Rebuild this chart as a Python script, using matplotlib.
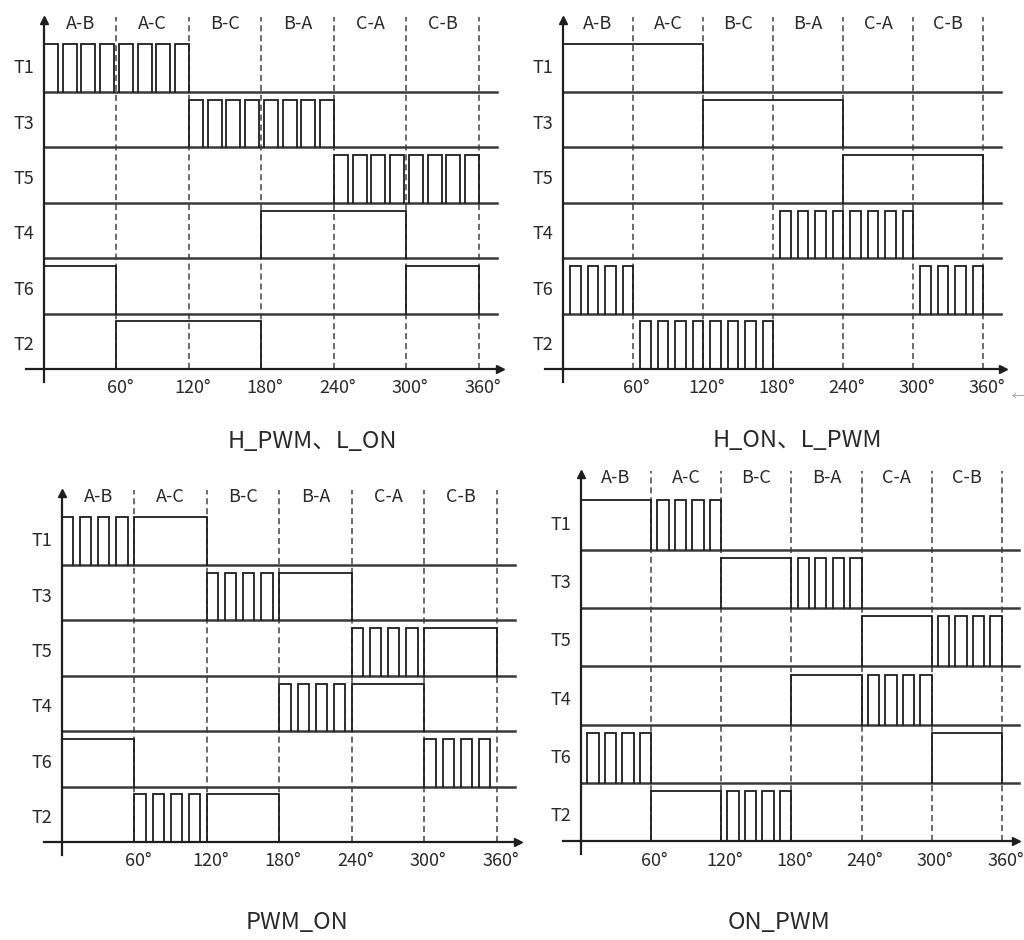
import matplotlib.pyplot as plt

plt.rcParams['font.family'] = ['Noto Sans CJK SC', 'DejaVu Sans']

switches = ['T1', 'T3', 'T5', 'T4', 'T6', 'T2']
sectors = ['A-B', 'A-C', 'B-C', 'B-A', 'C-A', 'C-B']
angles = [60, 120, 180, 240, 300, 360]
tick_labels = ['60°', '120°', '180°', '240°', '300°', '360°']

# state of each switch in each 60° sector: P = PWM chopping, H = on, 0 = off
h_pwm_l_on = ['PP0000', '00PP00', '0000PP', '000HH0', 'H0000H', '0HH000']
h_on_l_pwm = ['HH0000', '00HH00', '0000HH', '000PP0', 'P0000P', '0PP000']
pwm_on = ['PH0000', '00PH00', '0000PH', '000PH0', 'H0000P', '0PH000']
on_pwm = ['HP0000', '00HP00', '0000HP', '000HP0', 'P0000H', '0HP000']

titles = ['H_PWM、L_ON', 'H_ON、L_PWM', 'PWM_ON', 'ON_PWM']
pwm_modes = ['fill', 'low_first', 'high_first', 'low_first']
duties = [0.75, 0.6, 0.62, 0.65]
pulses_per_sector = 4

W, H = 1024, 940
# pixel layout of each panel: x of 0°, px per degree, y of time axis, px per row
panel_geom = [(44, 1.2083, 369, 55.4), (563, 1.1667, 369, 55.4),
              (62, 1.2083, 842, 55.4), (581, 1.169, 841, 58.2)]
arrow_x = [377, 377, 377, 372]
title_pos = [(312, 441), (797, 440), (297, 923), (779, 923)]

SIG = '#1e1e1e'
SEP = '#3a3a3a'
DASH = '#444444'
TXT = '#2a2a2a'
HIGH = 0.86


def high_intervals(states, mode, duty):
    runs = []
    i = 0
    while i < len(states):
        j = i
        while j + 1 < len(states) and states[j + 1] == states[i]:
            j += 1
        runs.append((states[i], i * 60, (j + 1) * 60))
        i = j + 1
    out = []
    for st, s, e in runs:
        if st == 'H':
            out.append([s, e])
        elif st == 'P':
            n = pulses_per_sector * (e - s) // 60
            if mode == 'fill':
                h = (e - s) / (n + (n - 1) * (1 - duty) / duty)
                g = h * (1 - duty) / duty
                for k in range(n):
                    out.append([s + k * (h + g), s + k * (h + g) + h])
            else:
                p = (e - s) / n
                for k in range(n):
                    if mode == 'low_first':
                        out.append([s + k * p + (1 - duty) * p, s + (k + 1) * p])
                    else:
                        out.append([s + k * p, s + k * p + duty * p])
    out.sort()
    merged = []
    for a, b in out:
        if merged and abs(a - merged[-1][1]) < 1e-9:
            merged[-1][1] = b
        else:
            merged.append([a, b])
    return merged


def draw_panel(ax, table, mode, duty, ax_end):
    ax.set_xlim(-35, 385)
    ax.set_ylim(-0.7, 6.6)
    ax.axis('off')
    # dashed sector borders
    for a in angles:
        ax.plot([a, a], [0, 6.35], color=DASH, lw=1.1, ls=(0, (4, 2.5)))
    # row separators
    for base in range(1, 6):
        ax.plot([0, 375], [base, base], color=SEP, lw=1.8)
    # axes with arrows
    ax.plot([-15, ax_end - 1], [0, 0], color=SIG, lw=1.6)
    ax.plot(ax_end, 0, marker='>', ms=6, color=SIG)
    ax.plot([0, 0], [-0.23, 6.25], color=SIG, lw=1.6)
    ax.plot(0, 6.3, marker='^', ms=6, color=SIG)
    # waveforms
    for r, (name, states) in enumerate(zip(switches, table)):
        base = 5 - r
        for a, b in high_intervals(states, mode, duty):
            ax.plot([a, a, b, b], [base, base + HIGH, base + HIGH, base],
                    color=SIG, lw=1.3, solid_joinstyle='miter')
        ax.text(-17, base + 0.43, name, ha='center', va='center', fontsize=13, color=TXT)
    for i, s in enumerate(sectors):
        ax.text(30 + 60 * i, 6.23, s, ha='center', va='center', fontsize=13, color=TXT)
    for a, lbl in zip(angles, tick_labels):
        ax.text(a + 3, -0.35, lbl, ha='center', va='center', fontsize=13, color=TXT)


fig = plt.figure(figsize=(W / 100, H / 100), dpi=100)
tables = [h_pwm_l_on, h_on_l_pwm, pwm_on, on_pwm]
for k, ((x0, sx, yb, sy), table, title, (tx, ty)) in enumerate(zip(panel_geom, tables, titles, title_pos)):
    ax = fig.add_axes([(x0 - 35 * sx) / W, 1 - (yb + 0.7 * sy) / H, 420 * sx / W, 7.3 * sy / H])
    draw_panel(ax, table, pwm_modes[k], duties[k], arrow_x[k])
    fig.text(tx / W, 1 - ty / H, title, ha='center', va='center', fontsize=17, color=TXT)

fig.text(1018 / W, 1 - 396 / H, '←', ha='center', va='center', fontsize=9, color='#999999')

fig.savefig('out.png', dpi=100)
